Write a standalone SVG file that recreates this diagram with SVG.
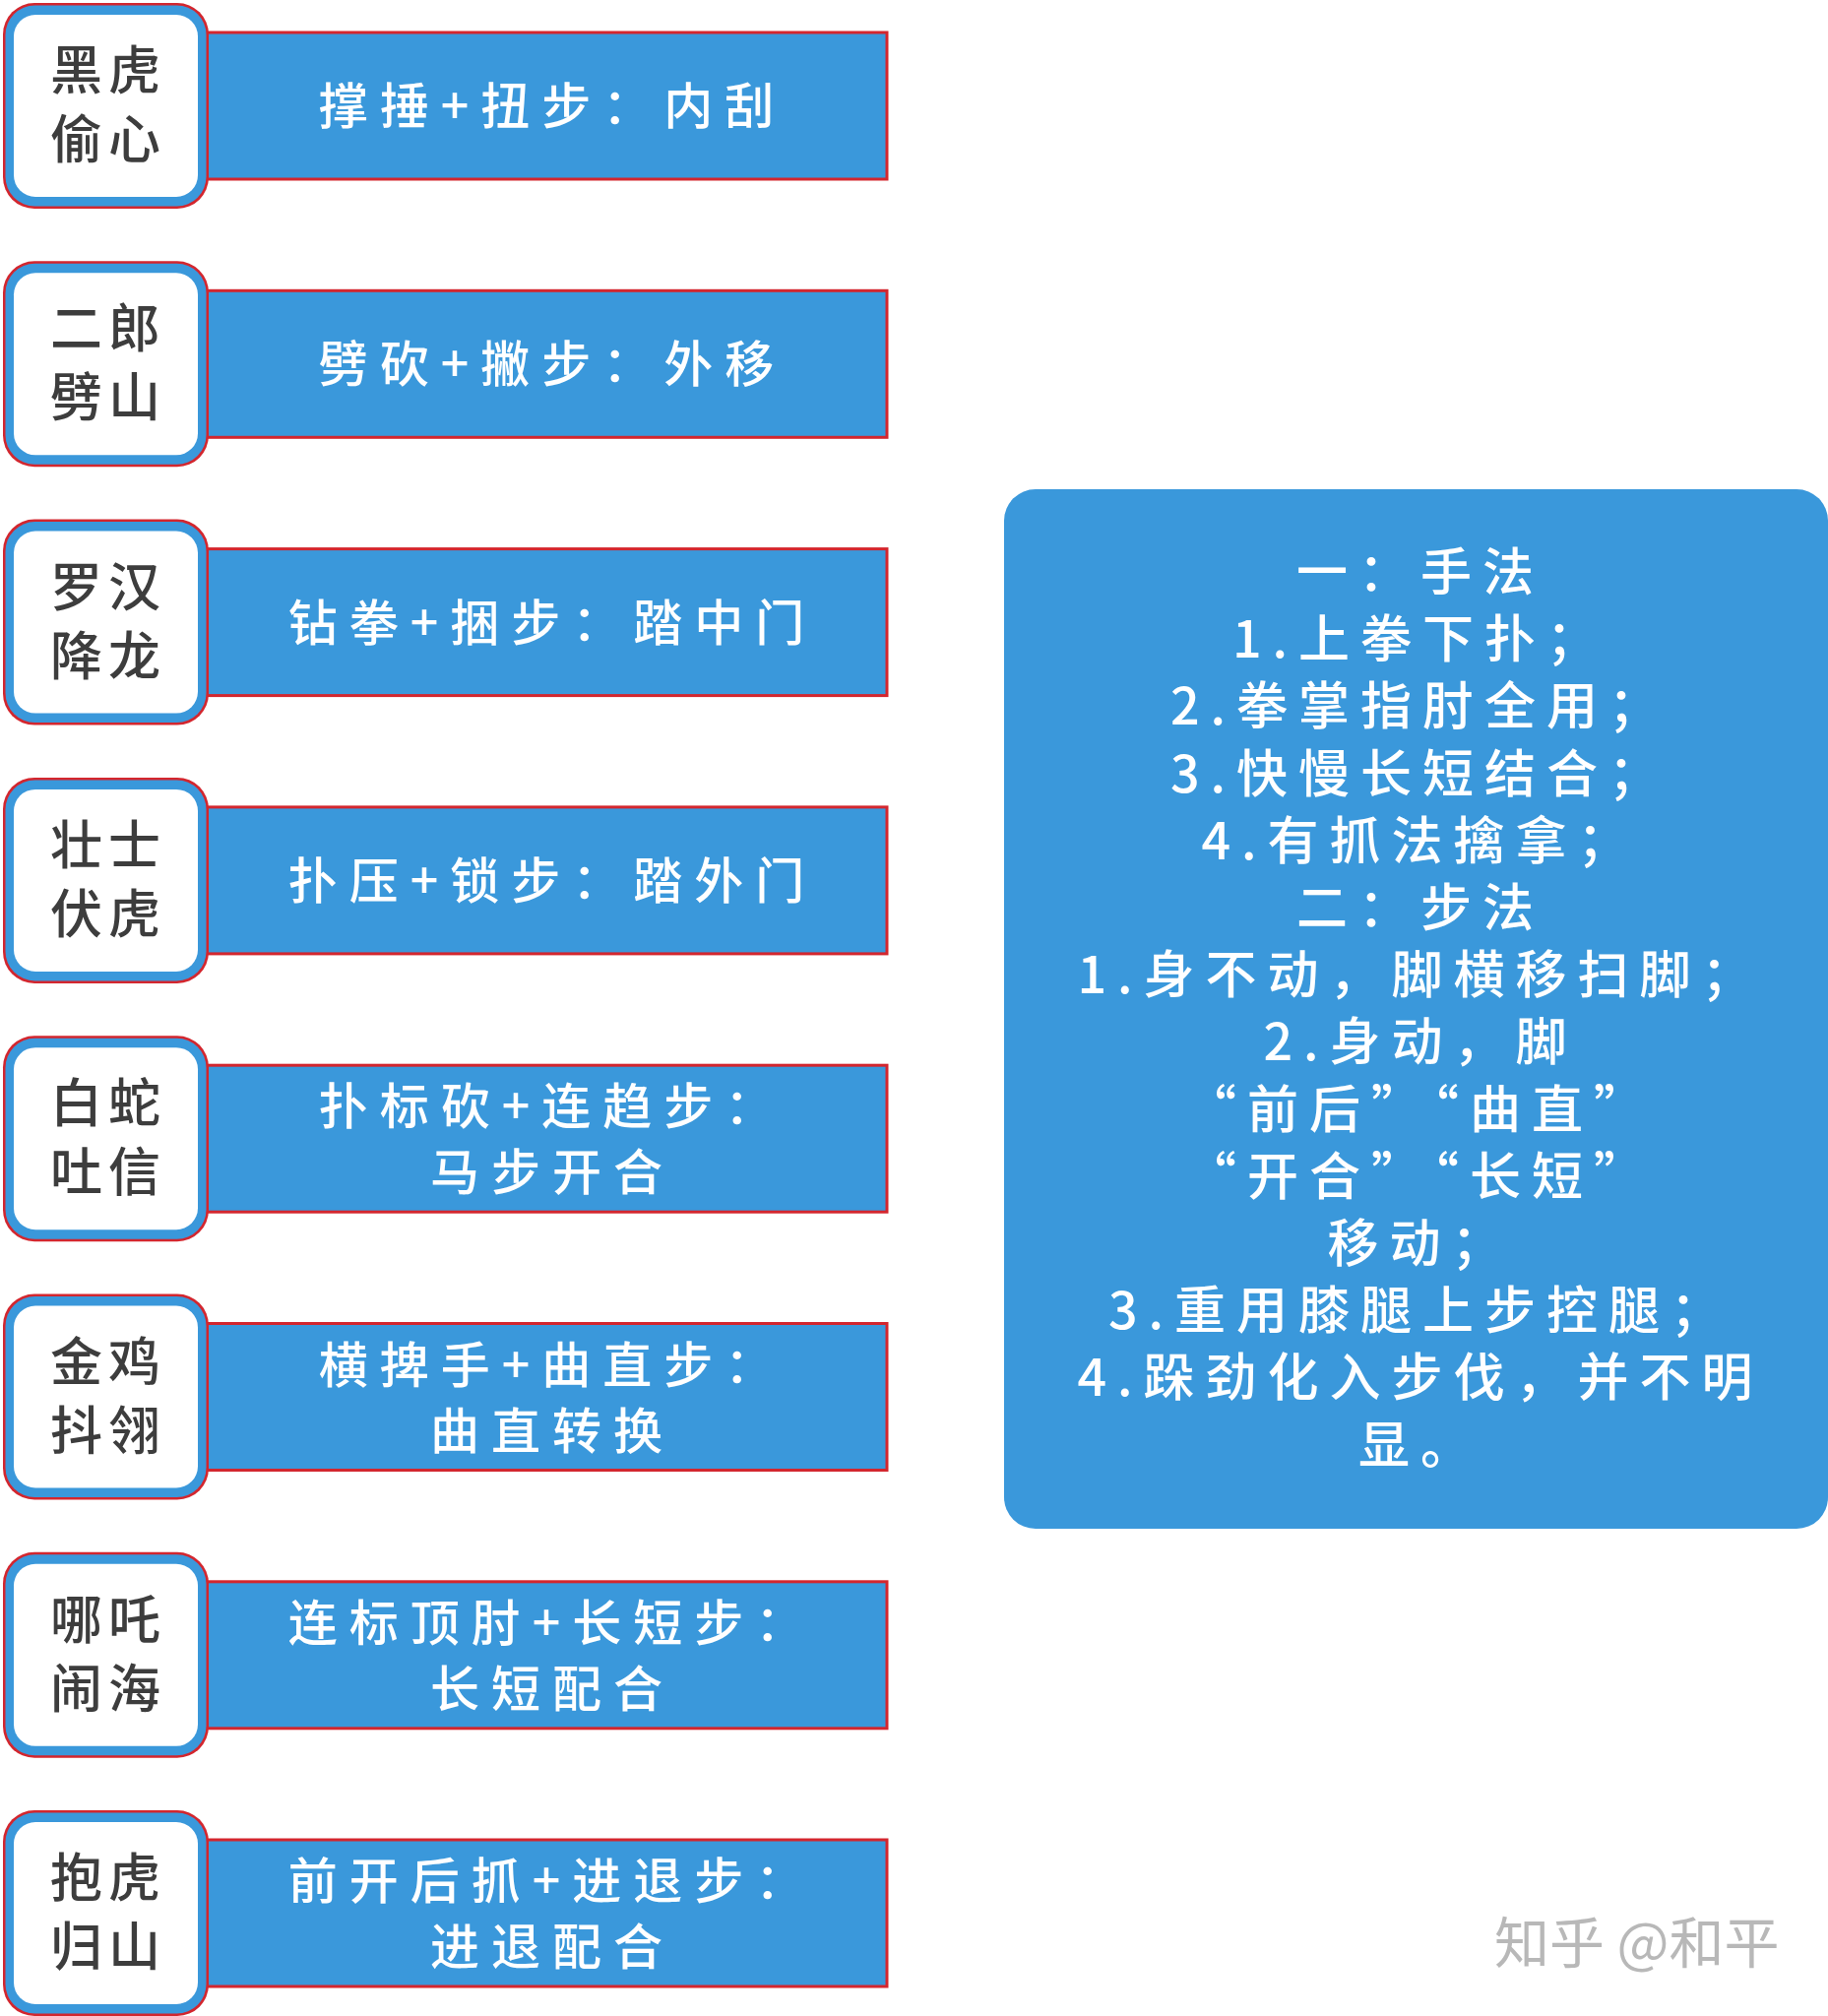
<svg xmlns="http://www.w3.org/2000/svg" width="1857" height="2048" viewBox="0 0 1857 2048">
<style>
.bar{fill:#3a98db;stroke:#d3262e;stroke-width:3}
.bo{fill:#d3262e}
.bm{fill:#3a98db}
.bi{fill:#ffffff}
.bt{font-family:"Noto Sans CJK SC","Noto Sans CJK JP",sans-serif;font-size:53px;font-weight:500;fill:#3d3d3d;letter-spacing:6px;text-anchor:middle}
.rt{font-family:"Noto Sans CJK SC","Noto Sans CJK JP",sans-serif;font-size:50px;font-weight:500;fill:#ffffff;letter-spacing:12px;text-anchor:middle}
.pt{font-family:"Noto Sans CJK SC","Noto Sans CJK JP",sans-serif;font-size:52px;font-weight:500;fill:#ffffff;letter-spacing:11px;text-anchor:middle}
.wm{font-family:"Noto Sans CJK SC","Noto Sans CJK JP",sans-serif;font-size:56px;fill:#b8b8b8}
</style>
<rect width="1857" height="2048" fill="#ffffff"/>
<g id="connectors"></g>

<g id="n1" transform="translate(0,3)">
<rect class="bar" x="200" y="30" width="701" height="149"/>
<rect class="bo" x="3" y="0" width="209" height="209" rx="32"/>
<rect class="bm" x="5.5" y="2.5" width="204" height="204" rx="30"/>
<rect class="bi" x="14" y="12" width="187" height="185" rx="22"/>
<text class="bt" x="110" y="88">黑虎</text>
<text class="bt" x="110" y="158">偷心</text>
<text class="rt" x="561" y="123">撑捶+扭步：内刮</text>
</g>

<g id="n2" transform="translate(0,265.3)">
<rect class="bar" x="200" y="30" width="701" height="149"/>
<rect class="bo" x="3" y="0" width="209" height="209" rx="32"/>
<rect class="bm" x="5.5" y="2.5" width="204" height="204" rx="30"/>
<rect class="bi" x="14" y="12" width="187" height="185" rx="22"/>
<text class="bt" x="110" y="88">二郎</text>
<text class="bt" x="110" y="158">劈山</text>
<text class="rt" x="561" y="123">劈砍+撇步：外移</text>
</g>

<g id="n3" transform="translate(0,527.6)">
<rect class="bar" x="200" y="30" width="701" height="149"/>
<rect class="bo" x="3" y="0" width="209" height="209" rx="32"/>
<rect class="bm" x="5.5" y="2.5" width="204" height="204" rx="30"/>
<rect class="bi" x="14" y="12" width="187" height="185" rx="22"/>
<text class="bt" x="110" y="88">罗汉</text>
<text class="bt" x="110" y="158">降龙</text>
<text class="rt" x="561" y="123">钻拳+捆步：踏中门</text>
</g>

<g id="n4" transform="translate(0,789.9)">
<rect class="bar" x="200" y="30" width="701" height="149"/>
<rect class="bo" x="3" y="0" width="209" height="209" rx="32"/>
<rect class="bm" x="5.5" y="2.5" width="204" height="204" rx="30"/>
<rect class="bi" x="14" y="12" width="187" height="185" rx="22"/>
<text class="bt" x="110" y="88">壮士</text>
<text class="bt" x="110" y="158">伏虎</text>
<text class="rt" x="561" y="123">扑压+锁步：踏外门</text>
</g>

<g id="n5" transform="translate(0,1052.2)">
<rect class="bar" x="200" y="30" width="701" height="149"/>
<rect class="bo" x="3" y="0" width="209" height="209" rx="32"/>
<rect class="bm" x="5.5" y="2.5" width="204" height="204" rx="30"/>
<rect class="bi" x="14" y="12" width="187" height="185" rx="22"/>
<text class="bt" x="110" y="88">白蛇</text>
<text class="bt" x="110" y="158">吐信</text>
<text class="rt" x="561" y="90">扑标砍+连趋步：</text>
<text class="rt" x="561" y="157">马步开合</text>
</g>

<g id="n6" transform="translate(0,1314.5)">
<rect class="bar" x="200" y="30" width="701" height="149"/>
<rect class="bo" x="3" y="0" width="209" height="209" rx="32"/>
<rect class="bm" x="5.5" y="2.5" width="204" height="204" rx="30"/>
<rect class="bi" x="14" y="12" width="187" height="185" rx="22"/>
<text class="bt" x="110" y="88">金鸡</text>
<text class="bt" x="110" y="158">抖翎</text>
<text class="rt" x="561" y="90">横捭手+曲直步：</text>
<text class="rt" x="561" y="157">曲直转换</text>
</g>

<g id="n7" transform="translate(0,1576.8)">
<rect class="bar" x="200" y="30" width="701" height="149"/>
<rect class="bo" x="3" y="0" width="209" height="209" rx="32"/>
<rect class="bm" x="5.5" y="2.5" width="204" height="204" rx="30"/>
<rect class="bi" x="14" y="12" width="187" height="185" rx="22"/>
<text class="bt" x="110" y="88">哪吒</text>
<text class="bt" x="110" y="158">闹海</text>
<text class="rt" x="561" y="90">连标顶肘+长短步：</text>
<text class="rt" x="561" y="157">长短配合</text>
</g>

<g id="n8" transform="translate(0,1839)">
<rect class="bar" x="200" y="30" width="701" height="149"/>
<rect class="bo" x="3" y="0" width="209" height="209" rx="32"/>
<rect class="bm" x="5.5" y="2.5" width="204" height="204" rx="30"/>
<rect class="bi" x="14" y="12" width="187" height="185" rx="22"/>
<text class="bt" x="110" y="88">抱虎</text>
<text class="bt" x="110" y="158">归山</text>
<text class="rt" x="561" y="90">前开后抓+进退步：</text>
<text class="rt" x="561" y="157">进退配合</text>
</g>

<g id="panel">
<rect x="1020" y="497" width="837" height="1056" rx="32" fill="#3a98db"/>
<text class="pt" x="1443" y="600">一：手法</text>
<text class="pt" x="1443" y="668">1.上拳下扑；</text>
<text class="pt" x="1443" y="736">2.拳掌指肘全用；</text>
<text class="pt" x="1443" y="805">3.快慢长短结合；</text>
<text class="pt" x="1443" y="873">4.有抓法擒拿；</text>
<text class="pt" x="1443" y="941">二：步法</text>
<text class="pt" x="1443" y="1009">1.身不动，脚横移扫脚；</text>
<text class="pt" x="1443" y="1077">2.身动，脚</text>
<text class="pt" x="1443" y="1146">“前后”“曲直”</text>
<text class="pt" x="1443" y="1214">“开合”“长短”</text>
<text class="pt" x="1443" y="1282">移动；</text>
<text class="pt" x="1443" y="1350">3.重用膝腿上步控腿；</text>
<text class="pt" x="1443" y="1418">4.跺劲化入步伐，并不明</text>
<text class="pt" x="1443" y="1487">显。</text>
</g>

<g id="watermark">
<text class="wm" x="1518" y="1994">知乎 @和平</text>
</g>
</svg>
